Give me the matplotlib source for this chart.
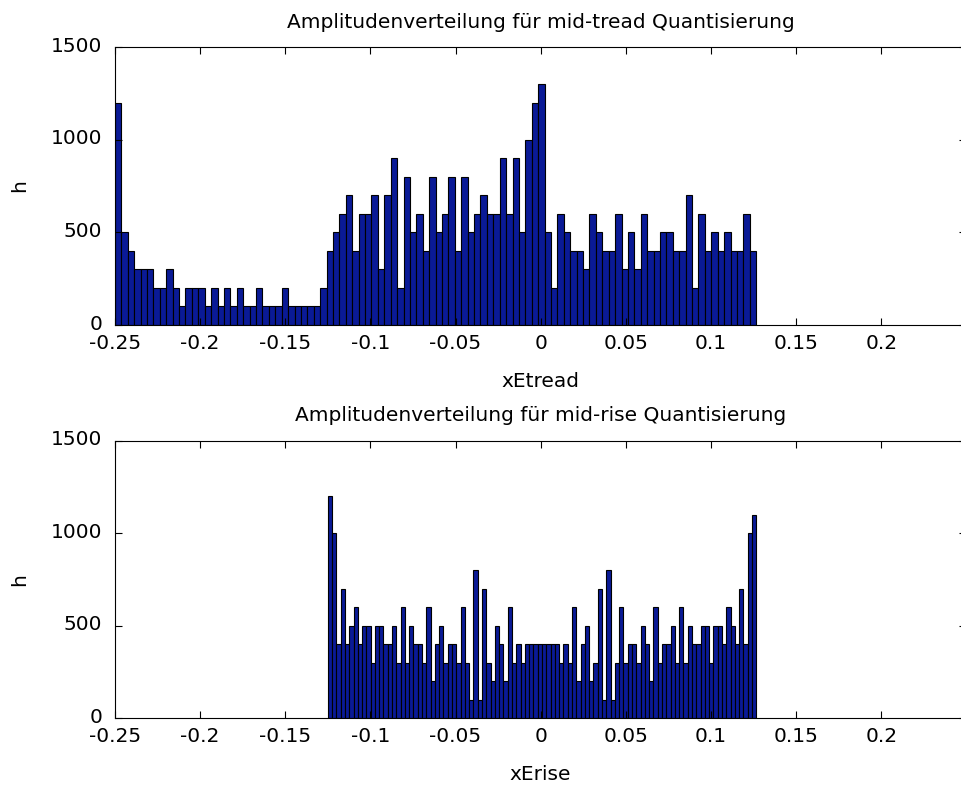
import numpy as np
import matplotlib
matplotlib.use("Agg")
import matplotlib.pyplot as plt
import matplotlib.transforms as mtransforms

# Histogramm-Werte (je 100 Klassen)
h_tread = [1200, 500, 400, 300, 300, 300, 200, 200, 300, 200,
           100, 200, 200, 200, 100, 200, 100, 200, 100, 200,
           100, 100, 200, 100, 100, 100, 200, 100, 100, 100,
           100, 100, 200, 400, 500, 600, 700, 400, 600, 600,
           700, 300, 700, 900, 200, 800, 500, 600, 400, 800,
           500, 600, 800, 400, 800, 500, 600, 700, 600, 600,
           900, 600, 900, 500, 1000, 1200, 1300, 500, 200, 600,
           500, 400, 400, 300, 600, 500, 400, 400, 600, 300,
           500, 300, 600, 400, 400, 500, 500, 400, 400, 700,
           200, 600, 400, 500, 400, 500, 400, 400, 600, 400]

h_rise = [1200, 1000, 400, 700, 400, 500, 600, 400, 500, 500,
          300, 500, 500, 400, 400, 500, 300, 600, 300, 500,
          400, 400, 300, 600, 200, 400, 500, 300, 400, 400,
          300, 600, 300, 100, 800, 100, 700, 300, 200, 500,
          400, 200, 600, 300, 400, 300, 400, 400, 400, 400,
          400, 400, 400, 400, 300, 400, 300, 600, 200, 400,
          500, 200, 300, 700, 100, 800, 100, 300, 600, 300,
          400, 400, 300, 500, 400, 200, 600, 300, 400, 400,
          500, 300, 600, 300, 500, 400, 400, 500, 500, 300,
          500, 500, 400, 600, 500, 400, 700, 400, 1000, 1100]

# Wertebereich der Klassen (min/max der Fehlersignale)
range_tread = (-0.25, 0.1266)
range_rise = (-0.125, 0.1266)

x_ticks = [-0.25, -0.2, -0.15, -0.1, -0.05, 0, 0.05, 0.1, 0.15, 0.2]
x_ticklabels = ['-0.25', '-0.2', '-0.15', '-0.1', '-0.05', '0', '0.05', '0.1', '0.15', '0.2']
y_ticks = [0, 500, 1000, 1500]

plt.rcParams['font.family'] = ['DejaVu Sans']
plt.rcParams['font.size'] = 14.5
plt.rcParams['axes.unicode_minus'] = False

fig = plt.figure(figsize=(9.62, 7.87), dpi=100)
ax1 = fig.add_axes([0.1195, 0.587, 0.885, 0.3532])
ax2 = fig.add_axes([0.1195, 0.0873, 0.885, 0.3527])

# y-Beschriftungen etwas nach oben, wie im Original
y_shift = mtransforms.ScaledTranslation(0, 3 / 100, fig.dpi_scale_trans)


def draw_hist(ax, counts, rng, title, xlabel):
    edges = np.linspace(rng[0], rng[1], len(counts) + 1)
    ax.bar(edges[:-1], counts, width=np.diff(edges), align='edge',
           color='#0a1a96', edgecolor='black', linewidth=0.8)
    ax.set_xlim(-0.25, 0.25)
    ax.set_ylim(0, 1500)
    ax.set_xticks(x_ticks)
    ax.set_xticklabels(x_ticklabels)
    ax.set_yticks(y_ticks)
    ax.tick_params(direction='in', length=5, width=0.8, top=True, right=True,
                   labelsize=14.5, color='black')
    ax.tick_params(axis='x', pad=6.5)
    ax.tick_params(axis='y', pad=9)
    for lab in ax.get_yticklabels():
        lab.set_transform(lab.get_transform() + y_shift)
    for s in ax.spines.values():
        s.set_linewidth(0.8)
    ax.set_title(title, fontsize=14.5, pad=14)
    ax.set_xlabel(xlabel, fontsize=14.5)
    ax.set_ylabel('h', fontsize=14.5)
    ax.xaxis.set_label_coords(0.5, -0.169)
    ax.yaxis.set_label_coords(-0.101, 0.5)


draw_hist(ax1, h_tread, range_tread,
          'Amplitudenverteilung für mid-tread Quantisierung', 'xEtread')
draw_hist(ax2, h_rise, range_rise,
          'Amplitudenverteilung für mid-rise Quantisierung', 'xErise')

plt.savefig('out.png', dpi=100)
plt.close()
